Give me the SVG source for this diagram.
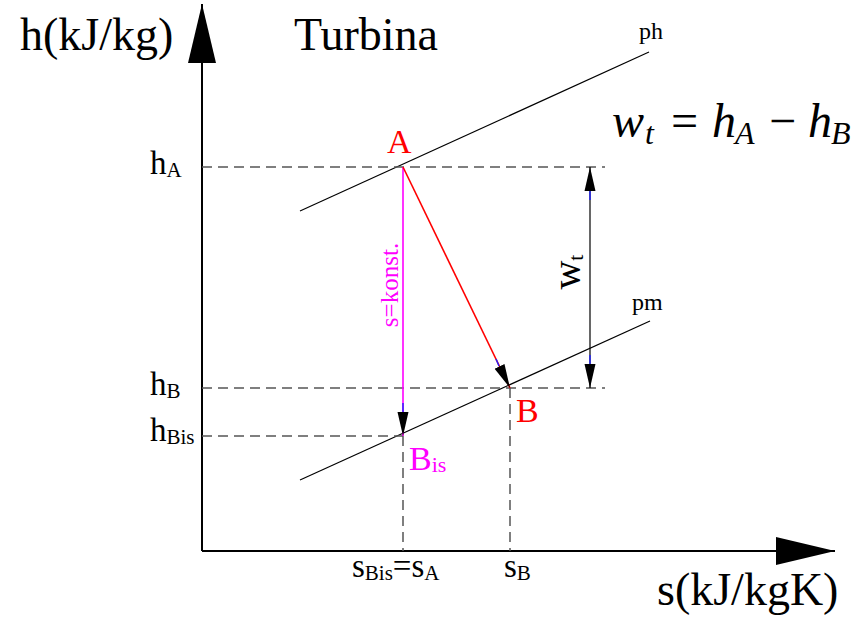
<svg xmlns="http://www.w3.org/2000/svg" width="864" height="620" viewBox="0 0 864 620" font-family="'Liberation Serif', 'Times New Roman', serif">
<style>
text, tspan{font-family:'Liberation Serif', serif;}
.lbl{font-size:46px;fill:#000;}
.tick{font-size:33px;fill:#000;}
.sub{font-size:21px;}
.red{fill:#ff0000;}
.mag{fill:#ff00ff;}
.dash{stroke:#555;stroke-width:1.5;stroke-dasharray:10,6;fill:none;}
.thin{stroke:#000;stroke-width:1.2;fill:none;}
.math{font-style:italic;font-size:48px;}
.msub{font-style:italic;font-size:32px;}
.blue{stroke:#2020ff;stroke-width:1.4;}
</style>
<defs>
<marker id="ah" markerUnits="userSpaceOnUse" markerWidth="24" markerHeight="12" refX="24" refY="5.5" orient="auto-start-reverse" viewBox="0 0 24 11">
<path d="M0,0 L24,5.5 L0,11 z" fill="#000"/>
</marker>
<marker id="axis" markerUnits="userSpaceOnUse" markerWidth="60" markerHeight="28" refX="59" refY="14" orient="auto" viewBox="0 0 60 28">
<path d="M0,0 L59,14 L0,28 z" fill="#000"/>
</marker>
</defs>

<g id="axes">
<line x1="202" y1="551" x2="202" y2="4" stroke="#000" stroke-width="2" marker-end="url(#axis)"/>
<line x1="202" y1="551" x2="835" y2="551" stroke="#000" stroke-width="2" marker-end="url(#axis)"/>
<text class="lbl" x="20" y="50">h(kJ/kg)</text>
<text class="lbl" x="657" y="605">s(kJ/kgK)</text>
<text class="lbl" x="294" y="50">Turbina</text>
</g>

<g id="isobars">
<line class="thin" x1="300" y1="211" x2="649" y2="52"/>
<line class="thin" x1="300" y1="480" x2="650" y2="321"/>
<text x="639" y="39" font-size="24">ph</text>
<text x="632" y="310" font-size="24">pm</text>
</g>

<g id="guides">
<line class="dash" x1="202" y1="167" x2="605" y2="167"/>
<line class="dash" x1="202" y1="388" x2="605" y2="388"/>
<line class="dash" x1="202" y1="436" x2="403" y2="436"/>
<line class="dash" x1="403" y1="436" x2="403" y2="551"/>
<line class="dash" x1="510" y1="388" x2="510" y2="551"/>
</g>

<g id="ticks">
<text class="tick" x="150" y="174">h<tspan class="sub" dy="3">A</tspan></text>
<text class="tick" x="150" y="395">h<tspan class="sub" dy="3">B</tspan></text>
<text class="tick" x="150" y="441">h<tspan class="sub" dy="3">Bis</tspan></text>
<text class="tick" x="352" y="577">s<tspan class="sub" dy="3">Bis</tspan><tspan dy="-3">=</tspan>s<tspan class="sub" dy="3">A</tspan></text>
<text class="tick" x="504" y="577">s<tspan class="sub" dy="3">B</tspan></text>
</g>

<g id="node-A"><text class="red" x="387" y="153" font-size="34">A</text></g>
<g id="node-B"><text class="red" x="516" y="422" font-size="34">B</text></g>
<g id="node-Bis"><text class="mag" x="409" y="470" font-size="34">B<tspan font-size="22" dy="2">is</tspan></text></g>

<g id="connectors">
<line x1="403" y1="167" x2="403" y2="436" stroke="#ff00ff" stroke-width="1.6" marker-end="url(#ah)"/>
<line x1="403" y1="167" x2="510" y2="388" stroke="#ff0000" stroke-width="1.6" marker-end="url(#ah)"/>
<line x1="590" y1="167" x2="590" y2="388" stroke="#000" stroke-width="1.2" marker-start="url(#ah)" marker-end="url(#ah)"/>
<line class="blue" x1="403" y1="403" x2="403" y2="412"/>
<line class="blue" x1="496" y1="359" x2="499" y2="366"/>
<line class="blue" x1="590" y1="191" x2="590" y2="200"/>
<line class="blue" x1="590" y1="355" x2="590" y2="364"/>
<text class="mag" font-size="25" transform="translate(398,285) rotate(-90)" text-anchor="middle">s=konst.</text>
<text font-size="40" transform="translate(580,272) rotate(-90)" text-anchor="middle">w<tspan font-size="22" dy="3">t</tspan></text>
</g>

<g id="formula">
<text class="math" x="612" y="137">w</text>
<text class="msub" x="645" y="144">t</text>
<text class="math" x="668" y="137" font-style="normal">=</text>
<text class="math" x="712" y="137">h</text>
<text class="msub" x="735" y="144">A</text>
<text class="math" x="766" y="137" font-style="normal" font-size="54">−</text>
<text class="math" x="808" y="137">h</text>
<text class="msub" x="831" y="144">B</text>
</g>
</svg>
